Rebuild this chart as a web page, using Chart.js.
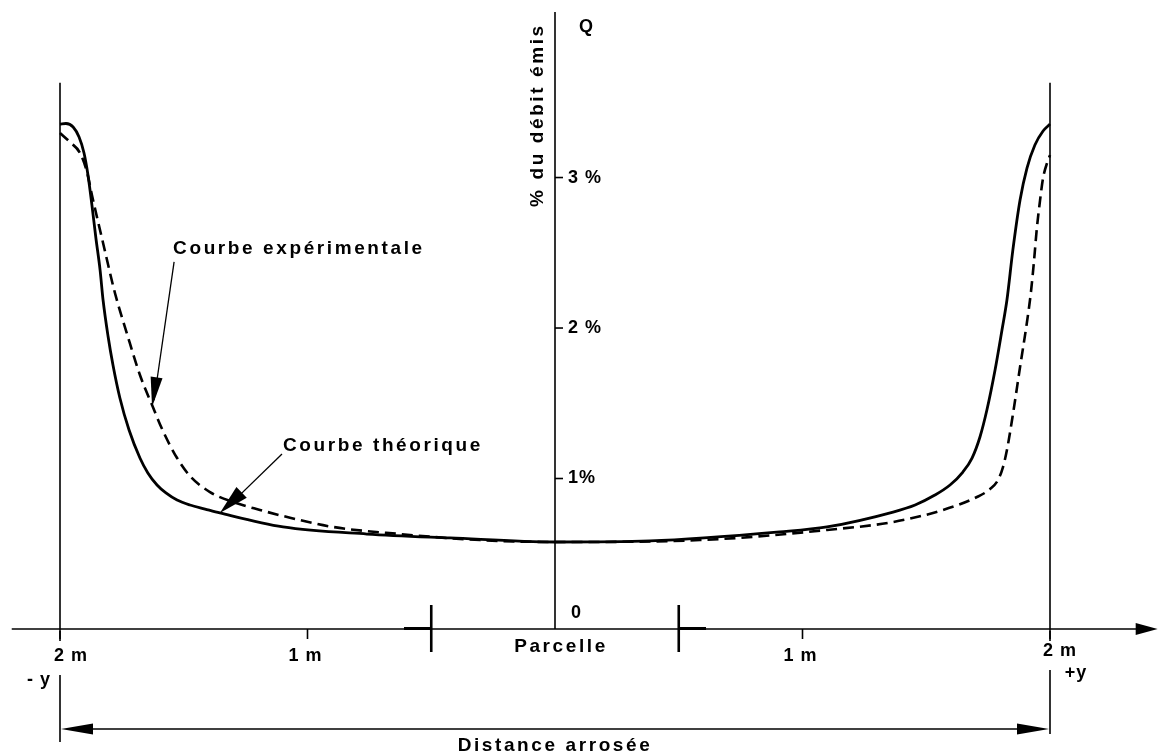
<!DOCTYPE html>
<html>
<head>
<meta charset="utf-8">
<script src="https://cdn.jsdelivr.net/npm/chart.js@4.4.1/dist/chart.umd.min.js"></script>
<style>
  html, body { margin: 0; padding: 0; background: #fff; }
  #c { display: block; }
</style>
</head>
<body>
<canvas id="c" width="1159" height="755"></canvas>
<script>
// Courbe théorique (trait plein) : distance (m), % du débit émis
const theoX = [-2.00, -1.976, -1.947, -1.923, -1.903, -1.887, -1.871, -1.855, -1.838, -1.826, -1.806, -1.786, -1.758, -1.721, -1.677, -1.645, -1.608, -1.572, -1.527, -1.475, -1.414, -1.354, -1.099, -0.760, -0.424, 0, 0.384, 0.909, 1.099, 1.366, 1.455, 1.535, 1.596, 1.648, 1.685, 1.717, 1.745, 1.778, 1.806, 1.826, 1.850, 1.879, 1.907, 1.939, 1.972, 2.00];
const theoY = [3.355, 3.359, 3.336, 3.269, 3.163, 3.017, 2.817, 2.598, 2.385, 2.186, 1.947, 1.754, 1.535, 1.322, 1.136, 1.037, 0.957, 0.904, 0.857, 0.824, 0.797, 0.771, 0.678, 0.631, 0.605, 0.578, 0.585, 0.645, 0.678, 0.777, 0.824, 0.890, 0.957, 1.043, 1.136, 1.276, 1.455, 1.721, 1.987, 2.186, 2.519, 2.851, 3.063, 3.216, 3.309, 3.355];

// Courbe expérimentale (tirets)
const expX = [-2.00, -1.960, -1.919, -1.891, -1.871, -1.826, -1.778, -1.729, -1.677, -1.628, -1.584, -1.527, -1.475, -1.394, -1.301, -1.192, -1.099, -0.897, -0.626, -0.303, 0, 0.586, 1.099, 1.366, 1.568, 1.705, 1.758, 1.790, 1.810, 1.826, 1.851, 1.879, 1.907, 1.923, 1.935, 1.947, 1.960, 1.972, 1.988, 2.00];
const expY = [3.296, 3.236, 3.163, 3.037, 2.884, 2.565, 2.233, 1.960, 1.688, 1.488, 1.316, 1.136, 1.017, 0.910, 0.844, 0.791, 0.751, 0.678, 0.631, 0.591, 0.578, 0.591, 0.658, 0.711, 0.791, 0.877, 0.930, 0.990, 1.076, 1.189, 1.435, 1.741, 2.040, 2.239, 2.439, 2.665, 2.851, 2.997, 3.096, 3.149];

const yTicks = [1, 2, 3];
const yTickLabels = ['1%', '2 %', '3 %'];
const xTicks = [-2, -1, 1, 2];
const xTickLabels = ['2 m', '1 m', '1 m', '2 m'];
const parcelleEdges = [-0.5, 0.5];

const FONT = 'bold 19px "Liberation Sans", Arial, sans-serif';
const SMALL_FONT = 'bold 18px "Liberation Sans", Arial, sans-serif';

function toPoints(xs, ys) {
  return xs.map((v, i) => ({ x: v, y: ys[i] }));
}

function seg(ctx, x1, y1, x2, y2, w) {
  ctx.lineWidth = w;
  ctx.beginPath();
  ctx.moveTo(x1, y1);
  ctx.lineTo(x2, y2);
  ctx.stroke();
}

// filled arrow head, tip at (tx,ty), coming from (fx,fy)
function head(ctx, fx, fy, tx, ty, len, half) {
  const a = Math.atan2(ty - fy, tx - fx);
  const bx = tx - len * Math.cos(a), by = ty - len * Math.sin(a);
  ctx.beginPath();
  ctx.moveTo(tx, ty);
  ctx.lineTo(bx + half * Math.sin(a), by - half * Math.cos(a));
  ctx.lineTo(bx - half * Math.sin(a), by + half * Math.cos(a));
  ctx.closePath();
  ctx.fill();
}

function text(ctx, s, x, y, align) {
  ctx.textAlign = align || 'center';
  ctx.fillText(s, x, y);
}

const schema = {
  id: 'schema',
  afterDatasetsDraw(chart) {
    const { ctx, scales } = chart;
    const px = v => scales.x.getPixelForValue(v);
    const py = v => scales.y.getPixelForValue(v);
    ctx.save();
    ctx.strokeStyle = '#000';
    ctx.fillStyle = '#000';
    ctx.lineCap = 'butt';

    const y0 = py(0);
    // axe horizontal + flèche
    seg(ctx, px(-2.195), y0, px(2.36), y0, 1.6);
    head(ctx, px(2.0), y0, px(2.435), y0, 22, 6);

    // axe vertical
    seg(ctx, px(0), py(4.1), px(0), y0, 1.6);

    // bords de la zone arrosée
    [-2, 2].forEach(v => {
      seg(ctx, px(v), py(3.63), px(v), y0, 1.6);
      seg(ctx, px(v), y0 + 2, px(v), y0 + 12, 1.6);
    });
    seg(ctx, px(-2), y0 + 46, px(-2), y0 + 113, 1.6);
    seg(ctx, px(2), y0 + 41, px(2), y0 + 105, 1.6);

    // graduations de l'axe horizontal
    xTicks.forEach(v => seg(ctx, px(v), y0, px(v), y0 + 10, 1.6));

    // limites de la parcelle
    parcelleEdges.forEach(v => {
      seg(ctx, px(v), y0 - 24, px(v), y0 + 23, 2.6);
      const out = v < 0 ? -0.11 : 0.11;
      seg(ctx, px(v), y0 - 0.5, px(v + out), y0 - 0.5, 3);
    });

    // graduations de l'axe vertical
    yTicks.forEach(v => seg(ctx, px(0), py(v), px(0) + 8, py(v), 1.6));

    // flèche « Distance arrosée »
    const yd = y0 + 100;
    seg(ctx, px(-2) + 10, yd, px(2) - 10, yd, 1.6);
    head(ctx, px(0), yd, px(-2) + 1, yd, 32, 5.5);
    head(ctx, px(0), yd, px(2) - 1, yd, 32, 5.5);

    // flèches vers les courbes
    seg(ctx, px(-1.539), py(2.44), px(-1.62), py(1.52), 1.3);
    head(ctx, px(-1.539), py(2.44), px(-1.628), py(1.475), 30, 6);
    seg(ctx, px(-1.103), py(1.163), px(-1.33), py(0.80), 1.3);
    head(ctx, px(-1.103), py(1.163), px(-1.354), py(0.77), 30, 7.5);

    // textes
    ctx.font = FONT;
    ctx.letterSpacing = '2.6px';
    ctx.textBaseline = 'middle';
    text(ctx, 'Courbe expérimentale', px(-1.543), py(2.525), 'left');
    text(ctx, 'Courbe théorique', px(-1.099), py(1.216), 'left');
    text(ctx, 'Parcelle', px(0) + 6, y0 + 18);
    text(ctx, 'Distance arrosée', px(0), y0 + 117);

    ctx.save();
    ctx.translate(px(0) - 17, py(3.415));
    ctx.rotate(-Math.PI / 2);
    text(ctx, '% du débit émis', 0, 0);
    ctx.restore();

    ctx.font = SMALL_FONT;
    ctx.letterSpacing = '1px';
    yTicks.forEach((v, i) => text(ctx, yTickLabels[i], px(0) + 13, py(v), 'left'));
    text(ctx, '0', px(0) + 16, y0 - 16, 'left');
    text(ctx, 'Q', px(0) + 24, py(4.0), 'left');
    xTicks.forEach((v, i) => text(ctx, xTickLabels[i], px(v) + (v === -2 ? 11 : v === 2 ? 10 : -2), y0 + (v === 2 ? 22 : 27)));
    text(ctx, '- y', px(-2) - 21, y0 + 51);
    text(ctx, '+y', px(2) + 26, y0 + 44);

    ctx.restore();
  }
};

new Chart(document.getElementById('c'), {
  type: 'line',
  data: {
    datasets: [
      {
        label: 'Courbe théorique',
        data: toPoints(theoX, theoY),
        borderColor: '#000',
        borderWidth: 2.8,
        pointRadius: 0,
        cubicInterpolationMode: 'monotone',
        fill: false,
        clip: false
      },
      {
        label: 'Courbe expérimentale',
        data: toPoints(expX, expY),
        borderColor: '#000',
        borderWidth: 2.6,
        borderDash: [11, 6],
        pointRadius: 0,
        cubicInterpolationMode: 'monotone',
        fill: false,
        clip: false
      }
    ]
  },
  options: {
    responsive: false,
    animation: false,
    events: [],
    layout: { padding: { left: 60, right: 109, top: 12, bottom: 126 } },
    scales: {
      x: { type: 'linear', min: -2, max: 2, display: false },
      y: { type: 'linear', min: 0, max: 4.1, display: false }
    },
    plugins: {
      legend: { display: false },
      tooltip: { enabled: false }
    }
  },
  plugins: [schema]
});
</script>
</body>
</html>
